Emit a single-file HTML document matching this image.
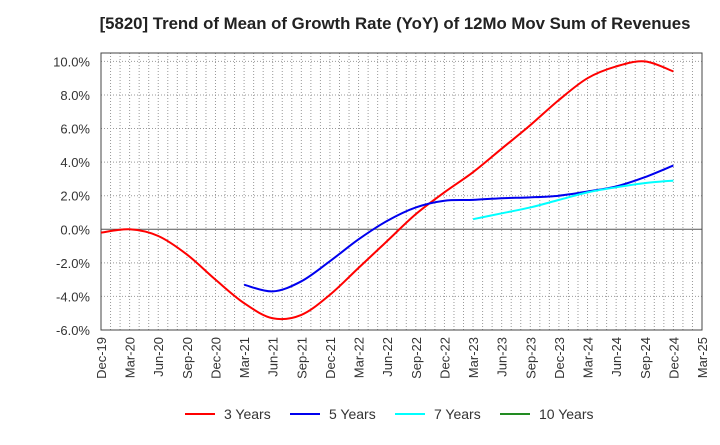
<!DOCTYPE html>
<html><head><meta charset="utf-8"><style>
body{margin:0;background:#fff;font-family:"Liberation Sans",Arial,sans-serif;}
</style></head><body>
<svg id="c" width="720" height="440" xmlns="http://www.w3.org/2000/svg" font-family="Liberation Sans, Arial, sans-serif">
<text x="395" y="29" text-anchor="middle" font-size="16.8" font-weight="bold" fill="#222">[5820]  Trend of Mean of Growth Rate (YoY) of 12Mo Mov Sum of Revenues</text>
<g id="grid"></g><g id="axes"></g><g id="series"></g><g id="legend"></g>
</svg>
<script>
const xLabels=["Dec-19","Mar-20","Jun-20","Sep-20","Dec-20","Mar-21","Jun-21","Sep-21","Dec-21","Mar-22","Jun-22","Sep-22","Dec-22","Mar-23","Jun-23","Sep-23","Dec-23","Mar-24","Jun-24","Sep-24","Dec-24","Mar-25"];
const yTicks=[-6,-4,-2,0,2,4,6,8,10];
const s3=[-0.2,0.0,-0.4,-1.5,-3.0,-4.4,-5.3,-5.1,-3.9,-2.3,-0.7,0.9,2.2,3.4,4.8,6.2,7.7,9.0,9.7,10.0,9.4];
const s5=[null,null,null,null,null,-3.3,-3.7,-3.1,-1.9,-0.6,0.5,1.3,1.7,1.75,1.85,1.9,2.0,2.25,2.55,3.1,3.8];
const s7=[null,null,null,null,null,null,null,null,null,null,null,null,null,0.6,0.95,1.3,1.75,2.2,2.5,2.75,2.9];
const s10=[];
const NS="http://www.w3.org/2000/svg";
const L=101,R=702,T=53,B=330,yMin=-6,yMax=10.5;
const xs=i=>L+i*(R-L)/(xLabels.length-1);
const ys=v=>B-(v-yMin)*(B-T)/(yMax-yMin);
function mk(tag,attrs,parent){const e=document.createElementNS(NS,tag);for(const k in attrs)e.setAttribute(k,attrs[k]);document.getElementById(parent).appendChild(e);return e;}
for(let m=1;m<(xLabels.length-1)*3;m++){const x=L+m*(R-L)/((xLabels.length-1)*3);
const g=mk('line',{x1:x,x2:x,y1:T,y2:B,stroke:'#999','stroke-dasharray':'1,2','stroke-width':1},'grid');

}
yTicks.forEach(v=>{const y=ys(v);
const g=mk('line',{x1:L,x2:R,y1:y,y2:y,stroke:v===0?'#555':'#999','stroke-dasharray':v===0?'none':'1,2','stroke-width':1},'grid');


const t=mk('text',{x:90,y:y+5,'text-anchor':'end','font-size':13,fill:'#333'},'axes');t.textContent=v.toFixed(1)+'%';

});
xLabels.forEach((lb,i)=>{const x=xs(i);
const t=mk('text',{x:0,y:0,'text-anchor':'end','font-size':13,fill:'#333',transform:`translate(${x+5},${B+7}) rotate(-90)`},'axes');t.textContent=lb;

});
const fr=mk('rect',{x:L,y:T,width:R-L,height:B-T,fill:'none',stroke:'#444','stroke-width':1},'axes');


function path(arr){const p=[];arr.forEach((v,i)=>{if(v!==null&&v!==undefined)p.push([xs(i),ys(v)]);});
if(p.length<2)return '';let d=`M${p[0][0]},${p[0][1]}`;
for(let i=0;i<p.length-1;i++){const p0=p[i-1]||p[i],p1=p[i],p2=p[i+1],p3=p[i+2]||p2;
d+=` C${p1[0]+(p2[0]-p0[0])/6},${p1[1]+(p2[1]-p0[1])/6} ${p2[0]-(p3[0]-p1[0])/6},${p2[1]-(p3[1]-p1[1])/6} ${p2[0]},${p2[1]}`;}return d;}
const series=[[s3,'#ff0000','3 Years','series-3-years'],[s5,'#0000ee','5 Years','series-5-years'],[s7,'#00ffff','7 Years','series-7-years'],[s10,'#228b22','10 Years','series-10-years']];
series.forEach(([a,c,lb,nm],k)=>{const d=path(a);if(d){const e=mk('path',{d:d,fill:'none',stroke:c,'stroke-width':2},'series');

}
const lx=185+k*105;
const ll=mk('line',{x1:lx,x2:lx+30,y1:414,y2:414,stroke:c,'stroke-width':2},'legend');


const t=mk('text',{x:lx+39,y:419,'font-size':14,fill:'#333'},'legend');t.textContent=lb;

});
</script>
</body></html>
